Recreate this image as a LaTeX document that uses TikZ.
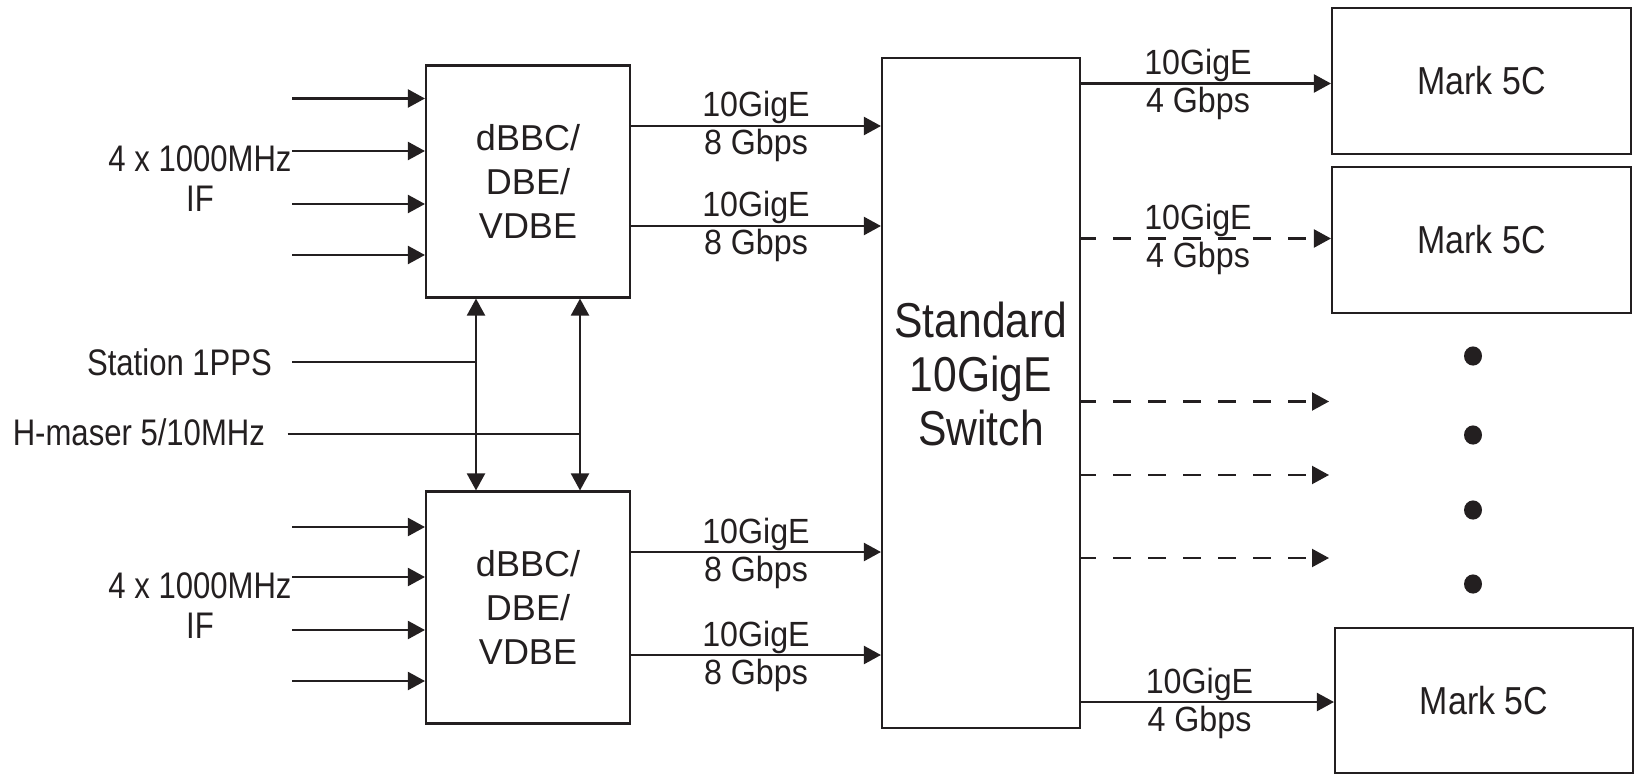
\documentclass[tikz,border=0pt]{standalone}
\usepackage{fontspec}
\setmainfont{Liberation Sans}
\newfontfamily\fcond[FakeStretch=0.84]{Liberation Sans}
\newfontfamily\fmid[FakeStretch=0.87]{Liberation Sans}
\newfontfamily\flab[FakeStretch=0.92]{Liberation Sans}
\usetikzlibrary{arrows.meta}
\definecolor{ink}{RGB}{35,31,32}
\begin{document}
\begin{tikzpicture}[x=0.5pt,y=-0.5pt,color=ink,line width=1.05pt,
  box/.style={draw,line width=1.05pt,inner sep=0pt,fill=none},
  dbox/.style={box,minimum width=102pt,minimum height=116pt,align=center,
    font={\fontsize{18}{22}\selectfont}},
  mbox/.style={box,minimum width=149.5pt,minimum height=73pt,
    font={\fmid\fontsize{19.5}{22}\selectfont}},
  ar/.style={-{Triangle[length=8.5pt,width=9pt]}},
  dar/.style={{Triangle[length=8.5pt,width=9pt]}-{Triangle[length=8.5pt,width=9pt]}},
  dsh/.style={ar,dash pattern=on 9pt off 8.5pt,dash phase=1.5pt},
  lt/.style={anchor=base,yshift=4.5pt,inner sep=0pt,font={\flab\fontsize{17.5}{20}\selectfont}},
  lb/.style={anchor=base,yshift=-14.5pt,inner sep=0pt,font={\flab\fontsize{17.5}{20}\selectfont}},
  sl/.style={inner sep=0pt,font={\fcond\fontsize{18.5}{20}\selectfont}}
]
\useasboundingbox (0,0) rectangle (1636,775);

% boxes
\node (d1) [dbox] at (528,181.5) {dBBC/\\DBE/\\VDBE};
\node (d2) [dbox] at (528,607.5) {dBBC/\\DBE/\\VDBE};
\node (sw) [box,minimum width=99pt,minimum height=335pt] at (981,393) {};
\node (swt) [align=center,inner sep=0pt,font={\fmid\fontsize{24.5}{27}\selectfont}] at (981,374) {Standard\\10GigE\\Switch};
\node (m1) [mbox] at (1481.5,81) {Mark 5C};
\node (m2) [mbox] at (1481.5,240) {Mark 5C};
\node (m3) [mbox,minimum width=149pt,minimum height=72.5pt] at (1484,700.5) {Mark 5C};

% IF inputs
\foreach \y [count=\i] in {98.5,151,204,255} {
  \coordinate (ia\i) at (292,\y);
  \draw[ar] (ia\i) -- (ia\i -| d1.west);
}
\foreach \y [count=\i] in {527,577,630,681} {
  \coordinate (ib\i) at (292,\y);
  \draw[ar] (ib\i) -- (ib\i -| d2.west);
}
\node (ifa) [sl,anchor=base] at (200,172) {4 x 1000MHz};
\node (ifa2) [sl,anchor=base] at (200,212) {IF};
\node (ifb) [sl,anchor=base] at (200,598) {4 x 1000MHz};
\node (ifb2) [sl,anchor=base] at (200,638) {IF};

% timing
\coordinate (v1) at (476,0);
\coordinate (v2) at (580,0);
\node (pps) [sl,anchor=base east] at (273,375) {Station 1PPS};
\node (hm) [sl,anchor=base east] at (266,445) {H-maser 5/10MHz};
\coordinate (ppsl) at (292,362);
\coordinate (hml) at (287.5,434);
\draw (ppsl) -- (ppsl -| v1);
\draw (hml) -- (hml -| v2);
\draw[dar] (v1 |- d1.south) -- (v1 |- d2.north);
\draw[dar] (v2 |- d1.south) -- (v2 |- d2.north);

% dBBC outputs
\foreach \y/\b/\n in {126/d1/a,226/d1/b,552/d2/c,655/d2/d} {
  \coordinate (o\n) at (0,\y);
  \draw[ar] (\b.east |- o\n) -- node[lt] (t\n) {10GigE} node[lb] (u\n) {8 Gbps} (sw.west |- o\n);
}

% switch outputs
\coordinate (s1) at (0,83.5);
\coordinate (s2) at (0,238.5);
\coordinate (s3) at (1329,401.5);
\coordinate (s4) at (1329,475);
\coordinate (s5) at (1329,558);
\coordinate (s6) at (0,702);
\draw[ar] (sw.east |- s1) -- node[lt,xshift=-4pt] (ts1) {10GigE} node[lb,xshift=-4pt] (us1) {4 Gbps} (m1.west |- s1);
\draw[dsh] (sw.east |- s2) -- node[lt,xshift=-4pt] (ts2) {10GigE} node[lb,xshift=-4pt] (us2) {4 Gbps} (m2.west |- s2);
\draw[dsh] (sw.east |- s3) -- (s3);
\draw[dsh] (sw.east |- s4) -- (s4);
\draw[dsh] (sw.east |- s5) -- (s5);
\draw[ar] (sw.east |- s6) -- node[lt,xshift=-4pt] (ts6) {10GigE} node[lb,xshift=-4pt] (us6) {4 Gbps} (m3.west |- s6);

% dots
\foreach \y in {356,435,510,584} \fill (1473,\y) ellipse [x radius=4.5pt,y radius=4.8pt];
\end{tikzpicture}
\end{document}
